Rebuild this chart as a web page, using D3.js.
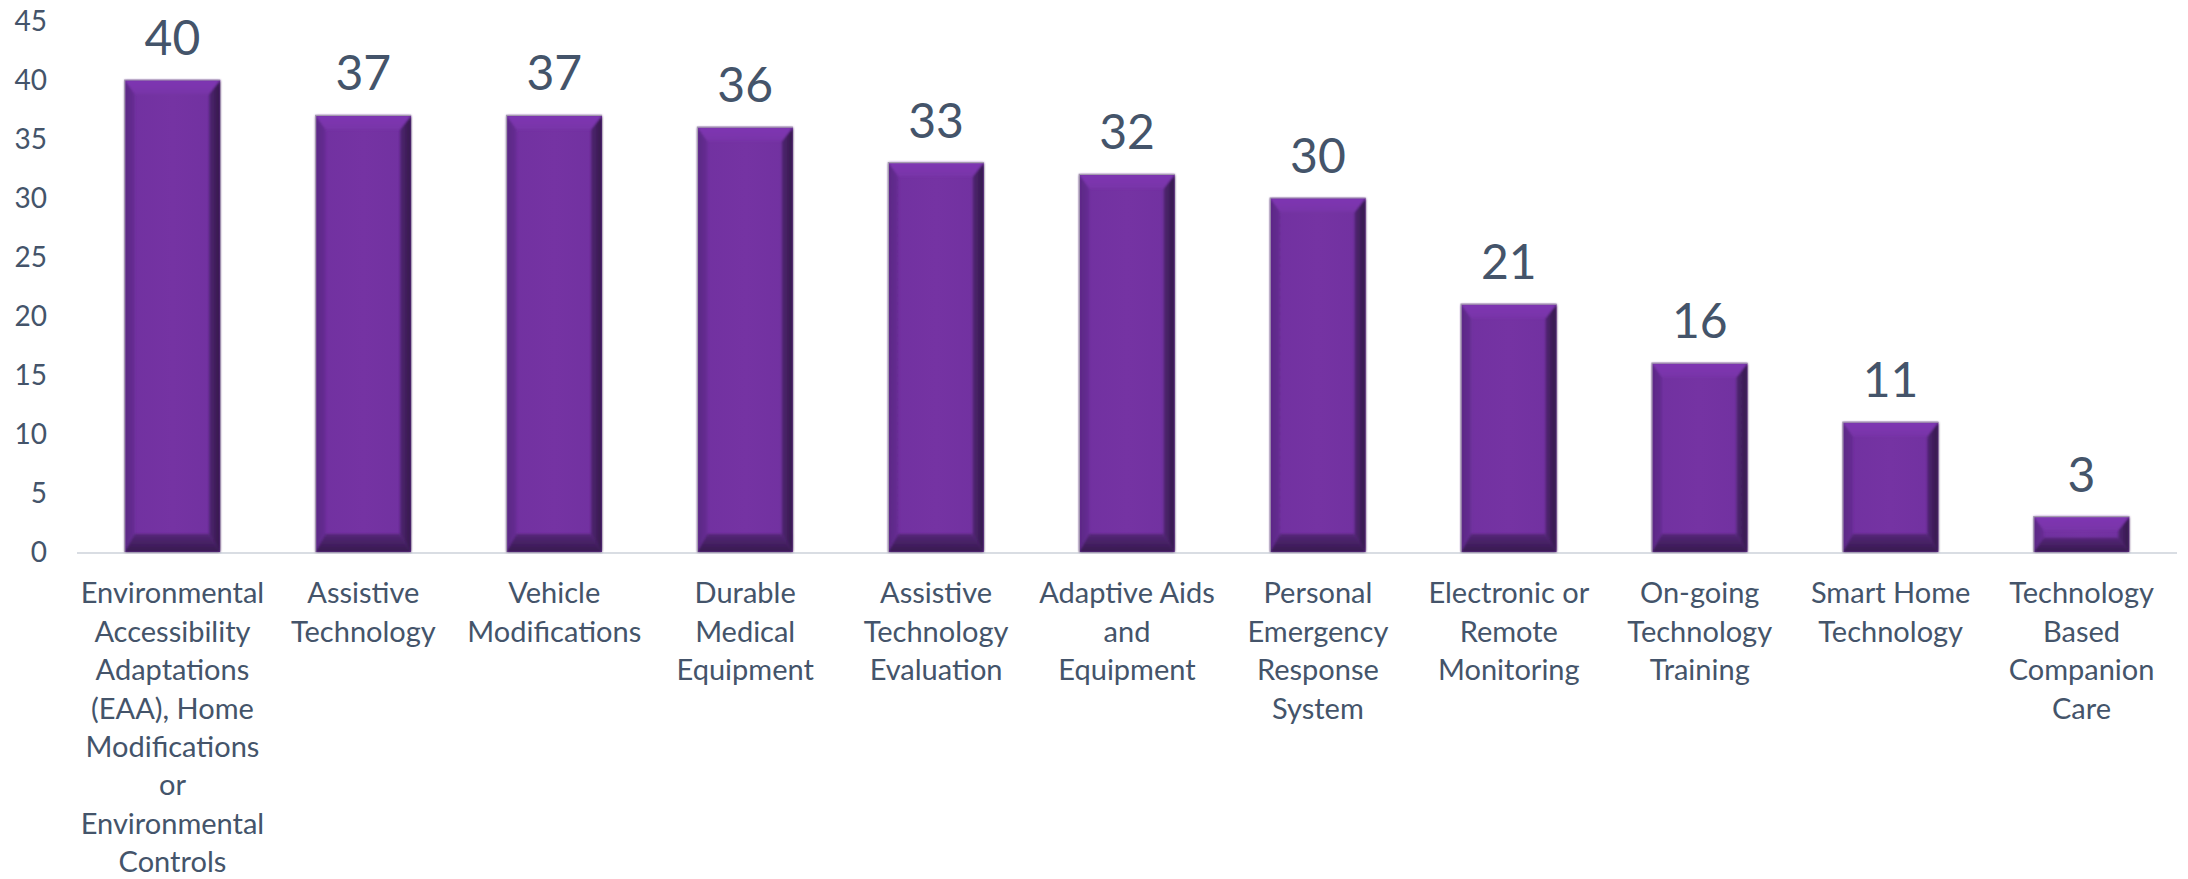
<!DOCTYPE html>
<html><head><meta charset="utf-8">
<script src="https://cdn.jsdelivr.net/npm/d3@7/dist/d3.min.js"></script>
<style>html,body{margin:0;padding:0;background:#fff;}svg{display:block;}</style>
</head><body>
<svg id="chart" width="2188" height="879"></svg>
<script>
const categories = [
  "Environmental\nAccessibility\nAdaptations\n(EAA), Home\nModifications\nor\nEnvironmental\nControls",
  "Assistive\nTechnology",
  "Vehicle\nModifications",
  "Durable\nMedical\nEquipment",
  "Assistive\nTechnology\nEvaluation",
  "Adaptive Aids\nand\nEquipment",
  "Personal\nEmergency\nResponse\nSystem",
  "Electronic or\nRemote\nMonitoring",
  "On-going\nTechnology\nTraining",
  "Smart Home\nTechnology",
  "Technology\nBased\nCompanion\nCare"
];
const values = [40, 37, 37, 36, 33, 32, 30, 21, 16, 11, 3];
const yTicks = [0, 5, 10, 15, 20, 25, 30, 35, 40, 45];

const svg = d3.select("#chart");
const font = "Lato, 'Open Sans', sans-serif";
const textColor = "#44546a";

const x = d3.scaleBand().domain(categories).range([77, 2177]).paddingInner(0.5).paddingOuter(0.25);
const y = d3.scaleLinear().domain([0, 45]).range([552, 21]);

const defs = svg.append("defs");
function lg(id, x1, y1, x2, y2, stops) {
  const g = defs.append("linearGradient").attr("id", id)
    .attr("x1", x1).attr("y1", y1).attr("x2", x2).attr("y2", y2);
  stops.forEach(s => g.append("stop").attr("offset", s[0]).attr("stop-color", s[1]));
}
lg("gFace", 0, 0, 1, 0, [[0, "#7131a0"], [0.5, "#7533a3"], [1, "#7131a0"]]);
lg("gTop", 0, 0, 0, 1, [[0, "#7f36b3"], [1, "#7834a8"]]);
lg("gLeft", 0, 0, 1, 0, [[0, "#5a2784"], [1, "#672d94"]]);
lg("gRight", 0, 0, 1, 0, [[0, "#502673"], [1, "#331849"]]);
lg("gBottom", 0, 0, 0, 1, [[0, "#552779"], [1, "#36194e"]]);
defs.append("filter").attr("id", "soft").append("feGaussianBlur").attr("stdDeviation", 0.8);

svg.append("g").selectAll("text").data(yTicks).join("text")
  .attr("x", 47).attr("y", d => y(d)).attr("dy", "0.36em")
  .attr("text-anchor", "end")
  .attr("font-family", font).attr("font-size", 28).attr("fill", textColor)
  .text(d => d);

svg.append("line").attr("x1", 77).attr("x2", 2177).attr("y1", y(0) + 1).attr("y2", y(0) + 1)
  .attr("stroke", "#d9dde3").attr("stroke-width", 2);

const data = categories.map((c, i) => ({c, v: values[i]}));
const bars = svg.append("g").selectAll("g").data(data).join("g");
bars.each(function(d) {
  const g = d3.select(this);
  const x0 = x(d.c), x1 = x0 + x.bandwidth();
  const y0 = y(d.v), y1 = y(0);
  const h = y1 - y0;
  const bt = Math.min(14, h * 0.4), bb = Math.min(18, h * 0.4);
  const bl = 10, br = 11;
  const pts = a => a.map(p => p.join(",")).join(" ");
  g.append("rect").attr("x", x0).attr("y", y0).attr("width", x1 - x0).attr("height", h).attr("fill", "url(#gFace)");
  const bev = g.append("g").attr("filter", "url(#soft)");
  bev.append("polygon").attr("points", pts([[x0, y0], [x0 + bl, y0 + bt], [x0 + bl, y1 - bb], [x0, y1]])).attr("fill", "url(#gLeft)");
  bev.append("polygon").attr("points", pts([[x1, y0], [x1 - br, y0 + bt], [x1 - br, y1 - bb], [x1, y1]])).attr("fill", "url(#gRight)");
  bev.append("polygon").attr("points", pts([[x0, y0], [x1, y0], [x1 - br, y0 + bt], [x0 + bl, y0 + bt]])).attr("fill", "url(#gTop)");
  bev.append("polygon").attr("points", pts([[x0, y1], [x1, y1], [x1 - br, y1 - bb], [x0 + bl, y1 - bb]])).attr("fill", "url(#gBottom)");
  g.append("path").attr("d", `M${x0},${y1}V${y0}H${x1}`)
    .attr("fill", "none").attr("stroke", "#a49cae").attr("stroke-width", 1.2);
});

svg.append("g").selectAll("text").data(data).join("text")
  .attr("x", d => x(d.c) + x.bandwidth() / 2).attr("y", d => y(d.v) - 25)
  .attr("text-anchor", "middle")
  .attr("font-family", font).attr("font-size", 48).attr("fill", textColor)
  .text(d => d.v);

const catG = svg.append("g").selectAll("text").data(categories).join("text")
  .attr("text-anchor", "middle")
  .attr("font-family", font).attr("font-size", 29).attr("fill", textColor);
catG.each(function(d) {
  const t = d3.select(this);
  const cx = x(d) + x.bandwidth() / 2;
  d.split("\n").forEach((line, i) => {
    t.append("tspan").attr("x", cx).attr("y", 593 + i * 38.4).attr("dy", "0.36em").text(line);
  });
});
</script>
</body></html>
